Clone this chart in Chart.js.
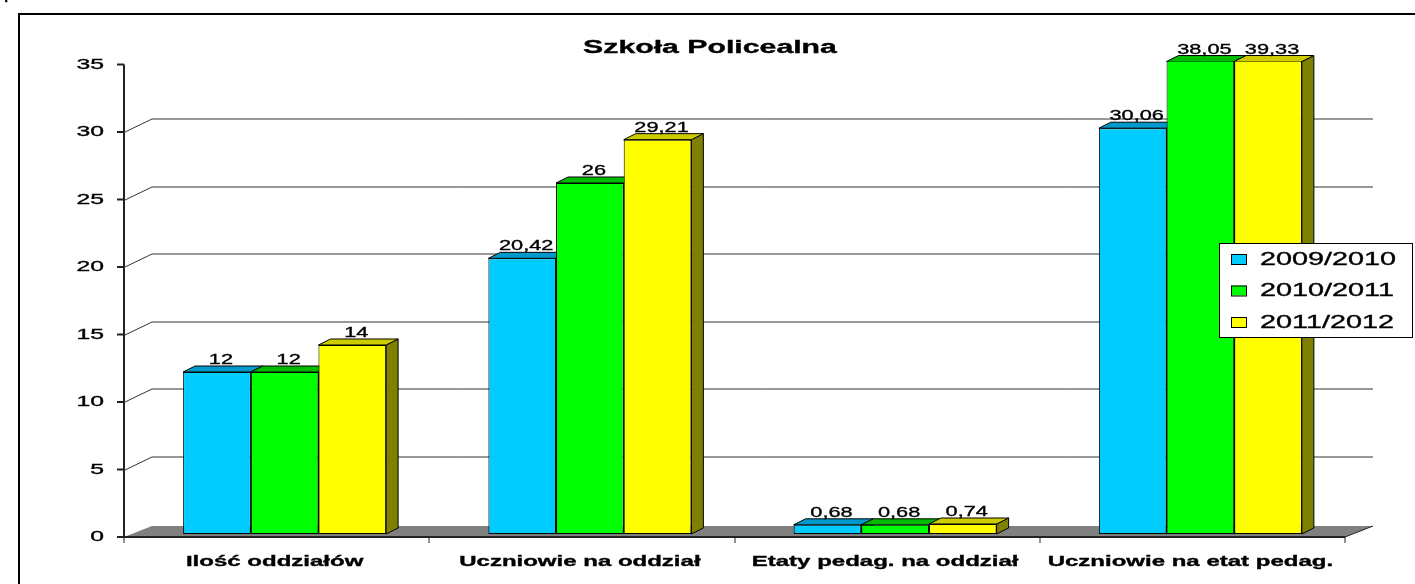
<!DOCTYPE html>
<html>
<head>
<meta charset="utf-8">
<title>Szkoła Policealna</title>
<script src="https://cdn.jsdelivr.net/npm/chart.js@4/dist/chart.umd.min.js"></script>
<style>
  html, body { margin: 0; padding: 0; background: #fff; overflow: hidden; }
  #chartCanvas { position: absolute; left: 0; top: 0; }
</style>
</head>
<body>
<canvas id="chartCanvas" width="1415" height="584"></canvas>
<script>
// Chart data
const chartTitle = 'Szkoła Policealna';
const categories = ['Ilość oddziałów', 'Uczniowie na oddział', 'Etaty pedag. na oddział', 'Uczniowie na etat pedag.'];
const seriesLabels = ['2009/2010', '2010/2011', '2011/2012'];
const values2009 = [12, 20.42, 0.68, 30.06];
const values2010 = [12, 26, 0.68, 38.05];
const values2011 = [14, 29.21, 0.74, 39.33];
const yTicks = [0, 5, 10, 15, 20, 25, 30, 35];

// Colours (front / top / side)
const frontColors = ['#00CCFF', '#00FF00', '#FFFF00'];
const topColors = ['#0099CC', '#00BB00', '#CCCC00'];
const sideColors = ['#006E94', '#008000', '#808000'];

// 3D offsets relative to the plane the bars stand in
const FRONT = { x: -8, y: 3 };
const BACK = { x: 20, y: -8 };
const GRID_BACK = { x: 20, y: -10.5 };
const DEPTH = { x: 12, y: -6 };

const FONT = '"Liberation Sans", Arial, sans-serif';

/**
 * Draw horizontally stretched text (the original image was widened)
 */
function stretchText(ctx, text, x, y, font, align, sx, baseline) {
  ctx.save();
  ctx.font = font;
  ctx.fillStyle = '#000';
  ctx.strokeStyle = '#000';
  ctx.lineWidth = 0.35;
  ctx.textAlign = align;
  ctx.textBaseline = baseline || 'middle';
  ctx.translate(x, y);
  ctx.scale(sx, 1);
  ctx.fillText(text, 0, 0);
  ctx.strokeText(text, 0, 0);
  ctx.restore();
}

function fmt(v) {
  return String(v).replace('.', ',');
}

function line(ctx, x1, y1, x2, y2) {
  ctx.beginPath();
  ctx.moveTo(x1, y1);
  ctx.lineTo(x2, y2);
  ctx.stroke();
}

/**
 * Walls, floor, axes, title and axis labels
 */
const backgroundPlugin = {
  id: 'excelBackground',
  beforeDraw(chart) {
    const ctx = chart.ctx;
    const area = chart.chartArea;
    const x = chart.scales.x;
    const y = chart.scales.y;

    ctx.save();
    ctx.fillStyle = '#fff';
    ctx.fillRect(0, 0, chart.width, chart.height);

    // cut off heading above the frame
    stretchText(ctx, 'p', 4, -1, '14px ' + FONT, 'left', 1.4, 'alphabetic');

    // outer frame
    ctx.strokeStyle = '#000';
    ctx.lineWidth = 2;
    ctx.strokeRect(19, 14, 2000, 2000);

    const frontLeft = area.left + FRONT.x;
    const frontRight = area.right + FRONT.x;
    const zero = y.getPixelForValue(0);

    // floor
    ctx.fillStyle = '#808080';
    ctx.beginPath();
    ctx.moveTo(frontLeft, zero + FRONT.y);
    ctx.lineTo(frontRight, zero + FRONT.y);
    ctx.lineTo(area.right + BACK.x, zero + BACK.y);
    ctx.lineTo(area.left + BACK.x, zero + BACK.y);
    ctx.closePath();
    ctx.fill();

    // gridlines on the back wall
    ctx.strokeStyle = '#333';
    ctx.lineWidth = 1;
    yTicks.forEach(v => {
      if (v === 0 || v === 35) return;
      const py = Math.round(y.getPixelForValue(v)) + 0.5;
      line(ctx, frontLeft, py + FRONT.y, area.left + GRID_BACK.x, py + GRID_BACK.y);
      line(ctx, area.left + GRID_BACK.x, py + GRID_BACK.y, area.right + GRID_BACK.x, py + GRID_BACK.y);
    });

    // x axis front edge and right floor edge
    ctx.strokeStyle = '#222';
    ctx.lineWidth = 2;
    line(ctx, frontLeft, zero + FRONT.y, frontRight, zero + FRONT.y);
    ctx.lineWidth = 1;
    line(ctx, frontRight, zero + FRONT.y, area.right + BACK.x, zero + BACK.y);

    // category tick marks
    const catWidth = (area.right - area.left) / categories.length;
    for (let i = 0; i <= categories.length; i++) {
      const px = Math.round(area.left + i * catWidth + FRONT.x);
      line(ctx, px, zero + FRONT.y, px, zero + FRONT.y + 6);
    }

    // y axis
    ctx.lineWidth = 2;
    line(ctx, frontLeft, y.getPixelForValue(35) + FRONT.y, frontLeft, zero + FRONT.y);
    yTicks.forEach(v => {
      const py = y.getPixelForValue(v) + FRONT.y;
      line(ctx, frontLeft - 7, py, frontLeft, py);
      stretchText(ctx, String(v), frontLeft - 20, py, '15px ' + FONT, 'right', 1.65);
    });

    // category labels
    categories.forEach((c, i) => {
      const px = x.getPixelForTick(i) + FRONT.x - 2;
      stretchText(ctx, c, px, 562, 'bold 15px ' + FONT, 'center', 1.6);
    });

    // title
    stretchText(ctx, chartTitle, 710, 48, 'bold 18px ' + FONT, 'center', 1.68);
    ctx.restore();
  },

  // top and side faces of every bar, drawn before the fronts
  beforeDatasetsDraw(chart) {
    const ctx = chart.ctx;
    const area = chart.chartArea;
    ctx.save();
    ctx.strokeStyle = '#000';
    ctx.lineWidth = 1;
    chart.data.datasets.forEach((ds, di) => {
      const meta = chart.getDatasetMeta(di);
      meta.data.forEach(bar => {
        const x1 = bar.x - bar.width / 2;
        const x2 = bar.x + bar.width / 2;
        const top = Math.max(bar.y, area.top);
        const base = bar.base;

        // side
        ctx.fillStyle = sideColors[di];
        ctx.beginPath();
        ctx.moveTo(x2, top);
        ctx.lineTo(x2 + DEPTH.x, top + DEPTH.y);
        ctx.lineTo(x2 + DEPTH.x, base + DEPTH.y);
        ctx.lineTo(x2, base);
        ctx.closePath();
        ctx.fill();
        ctx.stroke();

        // top
        ctx.fillStyle = topColors[di];
        ctx.beginPath();
        ctx.moveTo(x1, top);
        ctx.lineTo(x1 + DEPTH.x, top + DEPTH.y);
        ctx.lineTo(x2 + DEPTH.x, top + DEPTH.y);
        ctx.lineTo(x2, top);
        ctx.closePath();
        ctx.fill();
        ctx.stroke();
      });
    });
    ctx.restore();
  },

  // value labels and legend
  afterDatasetsDraw(chart) {
    const ctx = chart.ctx;
    const area = chart.chartArea;
    ctx.save();
    chart.data.datasets.forEach((ds, di) => {
      const meta = chart.getDatasetMeta(di);
      meta.data.forEach((bar, i) => {
        const top = Math.max(bar.y, area.top) + DEPTH.y;
        stretchText(ctx, fmt(ds.data[i]), bar.x + 4, top - 2, '15px ' + FONT, 'center', 1.45, 'alphabetic');
      });
    });

    // legend box
    const lx = 1219, ly = 243, lw = 193, lh = 94;
    ctx.fillStyle = '#fff';
    ctx.fillRect(lx, ly, lw, lh);
    ctx.strokeStyle = '#000';
    ctx.lineWidth = 1;
    ctx.strokeRect(lx + 0.5, ly + 0.5, lw, lh);
    seriesLabels.forEach((s, i) => {
      const cy = ly + 16 + i * 31.5;
      ctx.fillStyle = frontColors[i];
      ctx.fillRect(lx + 12, cy - 5, 15, 10);
      ctx.strokeRect(lx + 12.5, cy - 4.5, 15, 10);
      stretchText(ctx, s, lx + 41, cy + 1, '18px ' + FONT, 'left', 1.6);
    });
    ctx.restore();
  }
};

/**
 * Initialize chart
 */
function initChart() {
  const ctx = document.getElementById('chartCanvas').getContext('2d');
  const seriesValues = [values2009, values2010, values2011];

  new Chart(ctx, {
    type: 'bar',
    data: {
      labels: categories,
      datasets: seriesValues.map((vals, i) => ({
        label: seriesLabels[i],
        data: vals,
        backgroundColor: frontColors[i],
        borderColor: '#000',
        borderWidth: 1,
        borderSkipped: false,
        barPercentage: 1,
        categoryPercentage: 0.665
      }))
    },
    options: {
      responsive: false,
      animation: false,
      devicePixelRatio: 1,
      layout: {
        padding: { left: 0, right: 62, top: 61.5, bottom: 50 }
      },
      plugins: {
        legend: { display: false },
        title: { display: false },
        tooltip: { enabled: false }
      },
      scales: {
        x: {
          grid: { display: false },
          border: { display: false },
          ticks: { display: false },
          afterFit(scale) { scale.height = 0; }
        },
        y: {
          min: 0,
          max: 35,
          grid: { display: false },
          border: { display: false },
          ticks: { display: false, stepSize: 5 },
          afterFit(scale) { scale.width = 132; }
        }
      }
    },
    plugins: [backgroundPlugin]
  });
}

initChart();
</script>
</body>
</html>
